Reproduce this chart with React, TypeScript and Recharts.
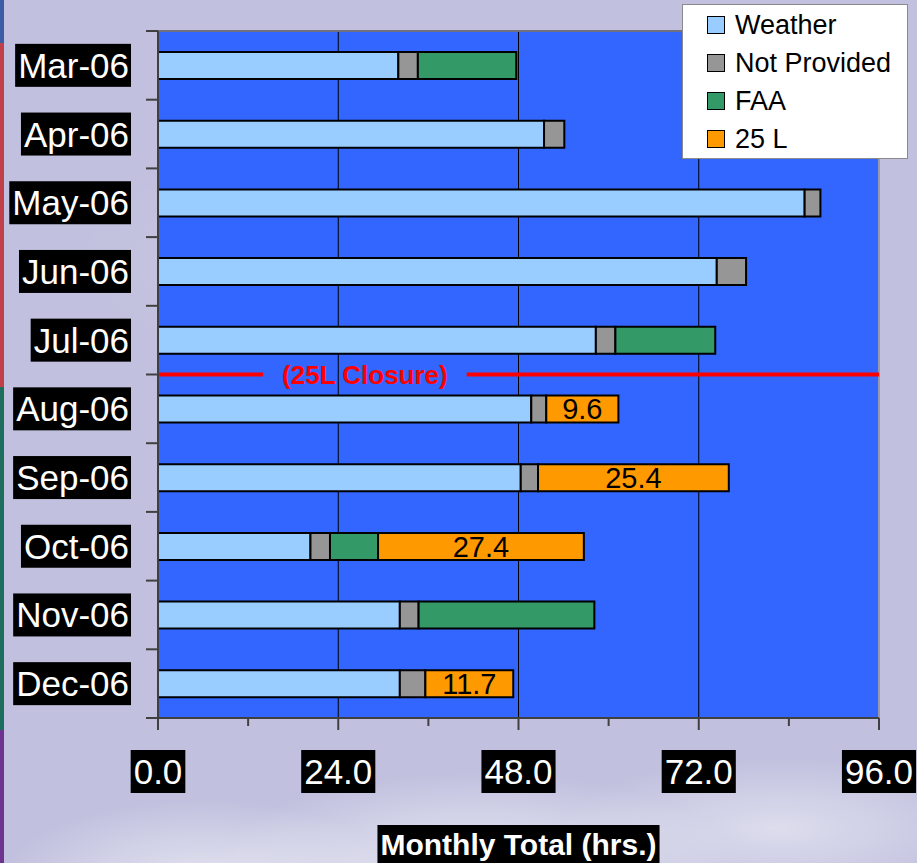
import React from 'react';
import { BarChart, Bar, XAxis, YAxis, CartesianGrid, Legend, ReferenceLine, LabelList } from 'recharts';

const MONTHS = ['Mar-06', 'Apr-06', 'May-06', 'Jun-06', 'Jul-06', 'Aug-06', 'Sep-06', 'Oct-06', 'Nov-06', 'Dec-06'];
const WEATHER = [32.0, 51.4, 86.1, 74.4, 58.3, 49.7, 48.3, 20.3, 32.2, 32.2];
const NOT_PROVIDED = [2.6, 2.7, 2.1, 3.9, 2.6, 2.0, 2.3, 2.6, 2.5, 3.4];
const FAA = [13.1, null, null, null, 13.3, null, null, 6.4, 23.4, null];
const RUNWAY_25L = [null, null, null, null, null, 9.6, 25.4, 27.4, null, 11.7];

const X_MAX = 96;
const X_TICKS = [0, 12, 24, 36, 48, 60, 72, 84, 96];
const X_LABELED = [0, 24, 48, 72, 96];
const GRID_X = [24, 48, 72];

// the 25L closure starts with this month; the red line sits on its upper edge
const CLOSURE_MONTH = 'Aug-06';
const CLOSURE_GAP = [14, 41.1];

const SERIES = [
  { key: 'weather', name: 'Weather', color: '#99CCFF' },
  { key: 'notProvided', name: 'Not Provided', color: '#969696' },
  { key: 'faa', name: 'FAA', color: '#339966' },
  { key: 'l25', name: '25 L', color: '#FF9900' },
];

const data = MONTHS.map((m, i) => ({
  month: m,
  weather: WEATHER[i],
  notProvided: NOT_PROVIDED[i],
  faa: FAA[i],
  l25: RUNWAY_25L[i],
}));

const W = 917;
const H = 863;
const MARGIN = { top: 31, right: 38, bottom: 0, left: 0 };
const Y_AXIS_W = 158;
const X_AXIS_H = 145;
const BAND = (H - MARGIN.top - X_AXIS_H) / MONTHS.length;
const FONT = '"Liberation Sans", Arial, Helvetica, sans-serif';
const AXIS_COLOR = '#404040';
const CLOSURE_LINE = { stroke: '#FF0000', strokeWidth: 4, style: { stroke: '#FF0000', strokeWidth: 4 } };

let ctx: CanvasRenderingContext2D | null = null;
const textWidth = (text: string, font: string) => {
  if (!ctx) ctx = document.createElement('canvas').getContext('2d');
  if (!ctx) return text.length * 18;
  ctx.font = font;
  return ctx.measureText(text).width;
};

// month labels, white on black, plus the tick marks on the band edges
const MonthTick = (props: any) => {
  const { x, y, payload, index } = props;
  const fs = 35;
  const w = textWidth(payload.value, `${fs}px ${FONT}`);
  const right = x - 29;
  return (
    <g>
      <line x1={x - 12} x2={x} y1={y - BAND / 2} y2={y - BAND / 2} stroke={AXIS_COLOR} strokeWidth={2} />
      {index === MONTHS.length - 1 && (
        <line x1={x - 12} x2={x} y1={y + BAND / 2} y2={y + BAND / 2} stroke={AXIS_COLOR} strokeWidth={2} />
      )}
      <rect x={right - w - 3} y={y - 21.5} width={w + 5} height={43} fill="#000" />
      <text x={right} y={y} dy={fs * 0.358} textAnchor="end" fill="#fff" fontSize={fs} fontFamily={FONT}>
        {payload.value}
      </text>
    </g>
  );
};

const HourTick = (props: any) => {
  const { x, y, payload } = props;
  const major = X_LABELED.includes(payload.value);
  const fs = 35;
  const label = Number(payload.value).toFixed(1);
  const w = textWidth(label, `${fs}px ${FONT}`);
  const cy = y + 53.5;
  return (
    <g>
      <line x1={x} x2={x} y1={y} y2={y + (major ? 12 : 8)} stroke={AXIS_COLOR} strokeWidth={2} />
      {major && (
        <>
          <rect x={x - w / 2 - 3} y={cy - 21.5} width={w + 6} height={43} fill="#000" />
          <text x={x} y={cy} dy={fs * 0.358} textAnchor="middle" fill="#fff" fontSize={fs} fontFamily={FONT}>
            {label}
          </text>
        </>
      )}
    </g>
  );
};

const AxisTitle = (props: any) => {
  const { viewBox } = props;
  const text = 'Monthly Total (hrs.)';
  const fs = 30;
  const w = textWidth(text, `bold ${fs}px ${FONT}`);
  const cx = viewBox.x + viewBox.width / 2;
  const base = viewBox.y + 137;
  return (
    <g>
      <rect x={cx - w / 2 - 3} y={base - 30} width={w + 6} height={40} fill="#000" />
      <text x={cx} y={base} textAnchor="middle" fill="#fff" fontSize={fs} fontWeight="bold" fontFamily={FONT}>
        {text}
      </text>
    </g>
  );
};

const LegendBox = (props: any) => {
  const order = SERIES.map((s) => s.key);
  const items = [...(props.payload || [])].sort(
    (a: any, b: any) => order.indexOf(a.dataKey) - order.indexOf(b.dataKey)
  );
  return (
    <div
      style={{
        width: 226,
        height: 155,
        boxSizing: 'border-box',
        background: '#fff',
        border: '1px solid #8a8a8a',
        paddingTop: 1,
        fontFamily: FONT,
      }}
    >
      {items.map((it: any) => (
        <div key={it.dataKey} style={{ display: 'flex', alignItems: 'center', height: 38 }}>
          <span
            style={{
              display: 'inline-block',
              width: 18,
              height: 18,
              boxSizing: 'border-box',
              border: '1.5px solid #000',
              background: it.color,
              marginLeft: 24,
              marginRight: 10,
            }}
          />
          <span style={{ fontSize: 27, color: '#000', lineHeight: '38px' }}>{it.value}</span>
        </div>
      ))}
    </div>
  );
};

export default function App() {
  return (
    <div
      style={{
        position: 'absolute',
        left: 0,
        top: 0,
        width: W,
        height: H,
        overflow: 'hidden',
        background:
          'radial-gradient(ellipse 260px 90px at 52% 100%, rgba(255,255,255,0.6), rgba(255,255,255,0) 100%),' +
          'radial-gradient(ellipse 200px 80px at 22% 102%, rgba(255,255,255,0.55), rgba(255,255,255,0) 100%),' +
          'radial-gradient(ellipse 220px 70px at 85% 96%, rgba(255,255,255,0.45), rgba(255,255,255,0) 100%),' +
          'radial-gradient(ellipse 300px 120px at 40% 30%, rgba(255,255,255,0.12), rgba(255,255,255,0) 100%),' +
          '#C1C1DF',
      }}
    >
      {/* slide template strip on the left edge */}
      <div style={{ position: 'absolute', left: 0, top: 0, width: 4, height: 43, background: '#3C5CA8' }} />
      <div style={{ position: 'absolute', left: 0, top: 43, width: 4, height: 344, background: '#C0404A' }} />
      <div style={{ position: 'absolute', left: 0, top: 387, width: 4, height: 343, background: '#1E6E5E' }} />
      <div style={{ position: 'absolute', left: 0, top: 730, width: 4, height: 133, background: '#6E3290' }} />

      <BarChart width={W} height={H} data={data} layout="vertical" margin={MARGIN} barSize={27}>
        <CartesianGrid
          horizontal={false}
          vertical
          fill="#3366FF"
          fillOpacity={1}
          stroke="#000"
          strokeWidth={1}
          verticalCoordinatesGenerator={({ offset }: any) =>
            GRID_X.map((v) => offset.left + (v / X_MAX) * offset.width)
          }
        />
        <XAxis
          type="number"
          domain={[0, X_MAX]}
          ticks={X_TICKS}
          interval={0}
          height={X_AXIS_H}
          tickSize={0}
          tickMargin={0}
          tickLine={false}
          tick={<HourTick />}
          axisLine={{ stroke: AXIS_COLOR, strokeWidth: 2 }}
          label={<AxisTitle />}
        />
        <YAxis
          yAxisId="cat"
          type="category"
          dataKey="month"
          width={Y_AXIS_W}
          interval={0}
          tickSize={0}
          tickMargin={0}
          tickLine={false}
          tick={<MonthTick />}
          axisLine={{ stroke: AXIS_COLOR, strokeWidth: 2 }}
        />
        <Legend
          layout="vertical"
          align="center"
          verticalAlign="middle"
          wrapperStyle={{ top: 4, left: 682, width: 226, height: 155 }}
          content={<LegendBox />}
        />
        {SERIES.map((s) => (
          <Bar
            key={s.key}
            yAxisId="cat"
            dataKey={s.key}
            name={s.name}
            stackId="a"
            fill={s.color}
            stroke="#000"
            strokeWidth={2}
            isAnimationActive={false}
          >
            {s.key === 'l25' && (
              <LabelList
                dataKey="l25"
                position="center"
                fill="#000"
                fontSize={29}
                fontFamily={FONT}
                formatter={(v: any) => (v == null ? '' : Number(v).toFixed(1))}
              />
            )}
          </Bar>
        ))}
        <ReferenceLine yAxisId="cat" y={MONTHS[0]} position="start" stroke="#70707e" strokeWidth={2} />
        <ReferenceLine yAxisId="cat" x={X_MAX} stroke="#9a9aae" strokeWidth={2} />
        <ReferenceLine
          yAxisId="cat"
          position="start"
          segment={[{ x: 0, y: CLOSURE_MONTH }, { x: CLOSURE_GAP[0], y: CLOSURE_MONTH }]}
          {...CLOSURE_LINE}
        />
        <ReferenceLine
          yAxisId="cat"
          position="start"
          segment={[{ x: CLOSURE_GAP[1], y: CLOSURE_MONTH }, { x: X_MAX, y: CLOSURE_MONTH }]}
          {...CLOSURE_LINE}
        />
        <ReferenceLine
          yAxisId="cat"
          position="start"
          segment={[{ x: CLOSURE_GAP[0], y: CLOSURE_MONTH }, { x: CLOSURE_GAP[1], y: CLOSURE_MONTH }]}
          stroke="none"
          label={{ value: '(25L Closure)', position: 'center', fill: '#FF0000', fontSize: 26, fontWeight: 'bold', fontFamily: FONT }}
        />
      </BarChart>
    </div>
  );
}
